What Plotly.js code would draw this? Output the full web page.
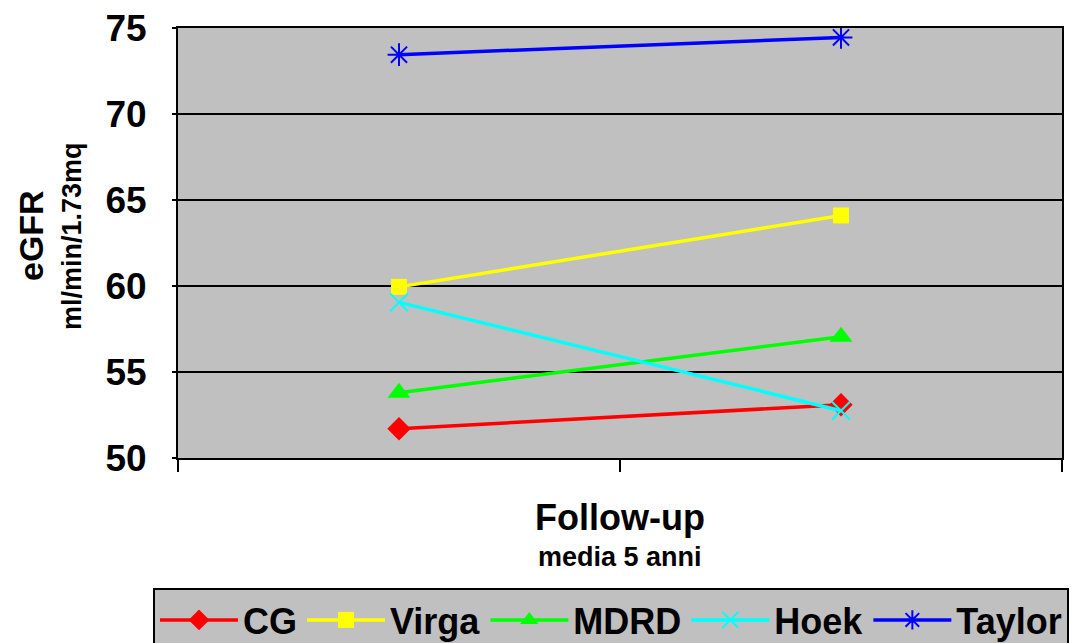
<!DOCTYPE html>
<html>
<head>
<meta charset="utf-8">
<script src="https://cdn.plot.ly/plotly-3.0.1.min.js"></script>
<style>html,body{margin:0;padding:0;background:#fff;}#chart{width:1078px;height:643px;}</style>
</head>
<body>
<div id="chart"></div>
<script>
const periods = ["Basale", "Follow-up"];
const seriesNames = ["CG", "Virga", "MDRD", "Hoek", "Taylor"];
const cgValues = [51.7, 53.1];
const virgaValues = [59.95, 64.1];
const mdrdValues = [53.8, 57.05];
const hoekValues = [59.05, 52.75];
const taylorValues = [73.45, 74.45];
const yTickVals = [50, 55, 60, 65, 70, 75];

const FONT = "Liberation Sans, Arial, sans-serif";
const styles = [
  {color: "#FF0000", symbol: "diamond", size: 18, lw: 0},
  {color: "#FFFF00", symbol: "square", size: 16, lw: 0},
  {color: "#00FF00", symbol: "triangle-up", size: 20, lw: 0},
  {color: "#00FFFF", symbol: "x-thin-open", size: 18, lw: 2},
  {color: "#0000FF", symbol: "asterisk-open", size: 19, lw: 2}
];
const allValues = [cgValues, virgaValues, mdrdValues, hoekValues, taylorValues];

const traces = seriesNames.map((n, i) => ({
  type: "scatter",
  mode: "lines+markers",
  name: n,
  x: periods,
  y: allValues[i],
  line: {color: styles[i].color, width: 3.5},
  marker: {symbol: styles[i].symbol, size: styles[i].size, color: styles[i].color,
           line: {color: styles[i].color, width: styles[i].lw}}
}));

const layout = {
  width: 1078, height: 643,
  margin: {l: 178, r: 16, t: 28, b: 185, autoexpand: false},
  paper_bgcolor: "#FFFFFF",
  plot_bgcolor: "#C0C0C0",
  showlegend: true,
  font: {family: FONT, color: "#000"},
  xaxis: {
    type: "category",
    range: [-0.5, 1.5],
    tickson: "boundaries",
    ticks: "outside", ticklen: 12, tickwidth: 2, tickcolor: "#000",
    showticklabels: false,
    showgrid: false, zeroline: false,
    showline: true, linecolor: "#000", linewidth: 2, mirror: true
  },
  yaxis: {
    range: [50, 75],
    tickvals: yTickVals,
    ticktext: yTickVals.map(String),
    ticks: "outside", ticklen: 4, tickwidth: 1.5, tickcolor: "#000",
    ticklabelstandoff: 18,
    tickfont: {family: FONT, size: 37, weight: "bold", color: "#000"},
    showgrid: true, gridcolor: "#000", gridwidth: 2,
    zeroline: false,
    showline: true, linecolor: "#000", linewidth: 2, mirror: true
  },
  legend: {
    orientation: "h",
    x: (153 - 178) / 884, xanchor: "left",
    y: (458 - 588) / 430, yanchor: "top",
    bgcolor: "#C0C0C0", bordercolor: "#000", borderwidth: 2,
    font: {family: FONT, size: 36, weight: "bold", color: "#000"},
    itemwidth: 78,
    traceorder: "normal"
  },
  annotations: [
    {text: "<b>Follow-up</b>", xref: "paper", yref: "paper", x: 0.5, y: (458 - 517) / 430,
     xanchor: "center", yanchor: "middle", showarrow: false,
     font: {family: FONT, size: 36, color: "#000"}},
    {text: "<b>media 5 anni</b>", xref: "paper", yref: "paper", x: 0.5, y: (458 - 557) / 430,
     xanchor: "center", yanchor: "middle", showarrow: false,
     font: {family: FONT, size: 27, color: "#000"}},
    {text: "<b>eGFR</b>", xref: "paper", yref: "paper", x: (31 - 178) / 884, y: (458 - 236) / 430,
     xanchor: "center", yanchor: "middle", showarrow: false, textangle: -90,
     font: {family: FONT, size: 34, color: "#000"}},
    {text: "<b>ml/min/1.73mq</b>", xref: "paper", yref: "paper", x: (72 - 178) / 884, y: (458 - 236) / 430,
     xanchor: "center", yanchor: "middle", showarrow: false, textangle: -90,
     font: {family: FONT, size: 27, color: "#000"}}
  ]
};

Plotly.newPlot("chart", traces, layout, {displayModeBar: false, staticPlot: true});
</script>
</body>
</html>
